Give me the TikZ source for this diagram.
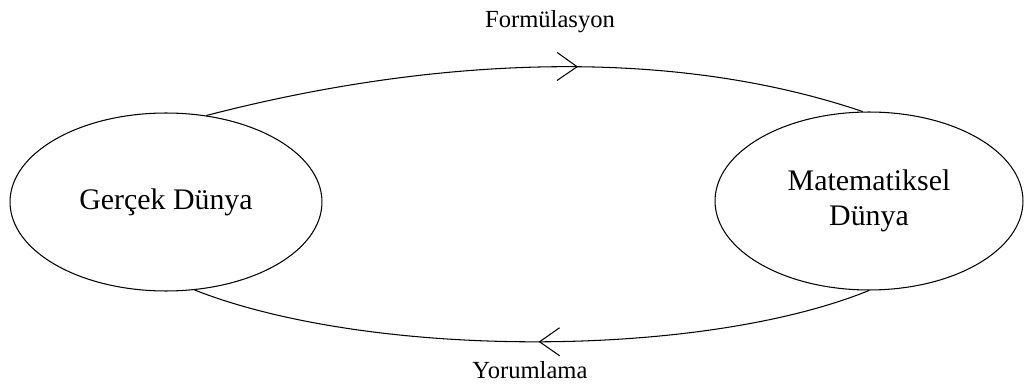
\documentclass[tikz,border=0pt]{standalone}
\usepackage{fontspec}
\setmainfont{Liberation Serif}
\usetikzlibrary{shapes.geometric, arrows.meta, decorations.markings}

\tikzset{
  world/.style={ellipse, draw, line width=0.6pt, inner sep=0pt, align=center,
                minimum width=6.24cm, minimum height=3.56cm,
                font=\fontsize{17}{20}\selectfont},
  flowlabel/.style={font=\fontsize{14}{16}\selectfont},
  flowline/.style={line width=0.6pt, postaction={decorate},
    decoration={markings, mark=at position #1 with
      {\arrow{Straight Barb[length=4mm, width=5.6mm, line width=0.6pt]}}}}
}

\begin{document}
\begin{tikzpicture}[x=0.02cm, y=-0.02cm]
    \useasboundingbox (0,0) rectangle (1025,385);
    % the two worlds
    \node[world] (gercek) at (166,202) {Gerçek Dünya};
    \node[world, minimum width=6.16cm] (matematik) at (869,201) {Matematiksel\\Dünya};
    % formulation and interpretation
    \draw[flowline=0.565] (gercek.65) .. controls (420,60) and (660,43) .. (matematik.94);
    \draw[flowline=0.49] (matematik.-90) .. controls (700,359) and (370,359) .. (gercek.-72);
    \node[flowlabel] (formul) at (550,22) {Formülasyon};
    \node[flowlabel] (yorum) at (530,370) {Yorumlama};
\end{tikzpicture}
\end{document}
